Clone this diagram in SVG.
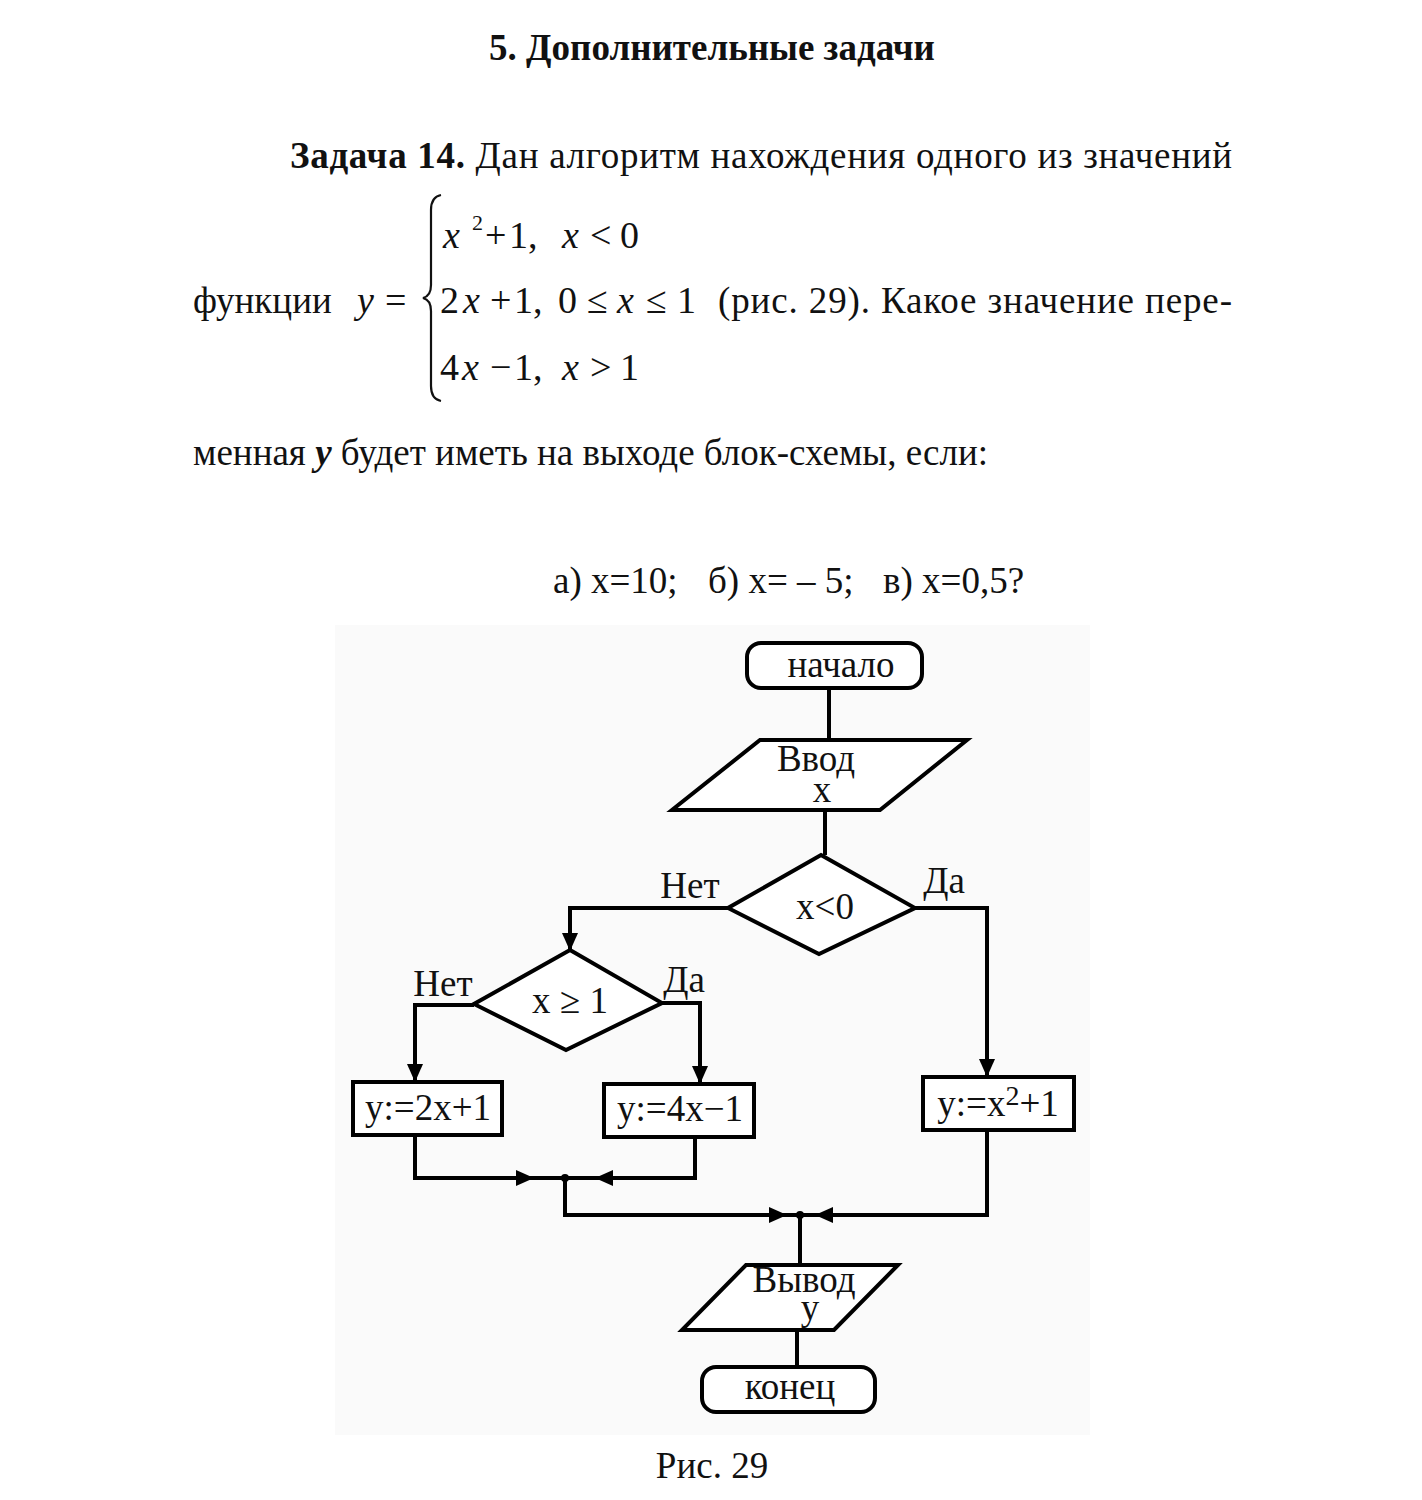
<svg xmlns="http://www.w3.org/2000/svg" width="1422" height="1500" viewBox="0 0 1422 1500">
<defs>
<style>
.t{font-family:"Liberation Serif","Times New Roman",serif;font-size:37px;fill:#111}
.b{font-weight:bold}
.i{font-style:italic}
.m{font-family:"Liberation Serif","Times New Roman",serif;font-size:38px;fill:#111}
.f{font-family:"Liberation Serif","Times New Roman",serif;font-size:37px;fill:#111;text-anchor:middle}
.s{fill:#fff;stroke:#000;stroke-width:4;stroke-linejoin:miter}
.c{fill:none;stroke:#000;stroke-width:4}
</style>
<marker id="ah" markerUnits="userSpaceOnUse" markerWidth="18" markerHeight="16" viewBox="0 0 18 16" refX="17" refY="8" orient="auto">
<path d="M0,0 L18,8 L0,16 Z" fill="#000"/>
</marker>
</defs>
<rect width="1422" height="1500" fill="#fff"/>
<rect x="335" y="625" width="755" height="810" fill="#fafafa"/>

<!-- text -->
<text class="t b" x="712" y="60" text-anchor="middle">5. Дополнительные задачи</text>
<text class="t" x="290" y="168" textLength="942" lengthAdjust="spacing"><tspan class="b">Задача 14.</tspan> Дан алгоритм нахождения одного из значений</text>
<text class="t" x="193" y="313">функции</text>
<text class="m i" x="357" y="313">y</text>
<text class="m" x="385" y="313">=</text>
<path d="M441,195 Q431,197 431,210 L431,285 Q431,296 423,298 Q431,300 431,311 L431,386 Q431,399 441,401" fill="none" stroke="#111" stroke-width="2.2"/>
<text class="m i" x="443" y="248">x</text>
<text class="m" x="472" y="230" style="font-size:22px">2</text>
<text class="m" x="485" y="248">+</text>
<text class="m" x="509" y="248">1,</text>
<text class="m i" x="562" y="248">x</text>
<text class="m" x="590" y="248">&lt;</text>
<text class="m" x="620" y="248">0</text>
<text class="m" x="440" y="313">2</text>
<text class="m i" x="463" y="313">x</text>
<text class="m" x="490" y="313">+</text>
<text class="m" x="514" y="313">1,</text>
<text class="m" x="558" y="313">0</text>
<text class="m" x="587" y="313">≤</text>
<text class="m i" x="617" y="313">x</text>
<text class="m" x="646" y="313">≤</text>
<text class="m" x="677" y="313">1</text>
<text class="m" x="440" y="380">4</text>
<text class="m i" x="462" y="380">x</text>
<text class="m" x="490" y="380">−</text>
<text class="m" x="514" y="380">1,</text>
<text class="m i" x="562" y="380">x</text>
<text class="m" x="590" y="380">&gt;</text>
<text class="m" x="620" y="380">1</text>
<text class="t" x="718" y="313" textLength="514" lengthAdjust="spacing">(рис. 29). Какое значение пере-</text>
<text class="t" x="193" y="465">менная <tspan class="b i">y</tspan> будет иметь на выходе блок-схемы, если:</text>
<text class="t" x="553" y="593">а) x=10;</text>
<text class="t" x="708" y="593">б) x= – 5;</text>
<text class="t" x="883" y="593">в) x=0,5?</text>
<text class="t" x="712" y="1478" text-anchor="middle">Рис. 29</text>

<!-- connectors -->
<g id="connectors">
<path class="c" d="M829,688 V740"/>
<path class="c" d="M825,810 V855"/>
<path class="c" d="M915,908 H987 V1076" marker-end="url(#ah)"/>
<path class="c" d="M728,908 H570 V950" marker-end="url(#ah)"/>
<path class="c" d="M662,1003 H700 V1083" marker-end="url(#ah)"/>
<path class="c" d="M474,1005 H415 V1081" marker-end="url(#ah)"/>
<path class="c" d="M415,1135 V1178 H533" marker-end="url(#ah)"/>
<path class="c" d="M533,1178 H565"/>
<path class="c" d="M695,1137 V1178 H596" marker-end="url(#ah)"/>
<path class="c" d="M596,1178 H565"/>
<path class="c" d="M565,1178 V1215 H786" marker-end="url(#ah)"/>
<path class="c" d="M786,1215 H800"/>
<path class="c" d="M987,1130 V1215 H816" marker-end="url(#ah)"/>
<path class="c" d="M816,1215 H800"/>
<path class="c" d="M800,1215 V1265"/>
<path class="c" d="M797,1330 V1368"/>
<circle cx="565" cy="1178" r="4" fill="#000"/>
<circle cx="800" cy="1215" r="4" fill="#000"/>
<text class="f" x="690" y="898">Нет</text>
<text class="f" x="944" y="893">Да</text>
<text class="f" x="443" y="996">Нет</text>
<text class="f" x="684" y="992">Да</text>
</g>

<!-- nodes -->
<g id="start">
<rect class="s" x="747" y="643" width="175" height="45" rx="14"/>
<text class="f" x="841" y="677">начало</text>
</g>
<g id="input">
<polygon class="s" points="760,740 967,740 880,810 672,810"/>
<text class="f" x="816" y="771">Ввод</text>
<text class="f" x="822" y="802">x</text>
</g>
<g id="cond1">
<polygon class="s" points="821,855 915,908 819,954 728,908"/>
<text class="f" x="825" y="919">x&lt;0</text>
</g>
<g id="cond2">
<polygon class="s" points="570,950 662,1003 566,1050 474,1004"/>
<text class="f" x="570" y="1013">x ≥ 1</text>
</g>
<g id="b1">
<rect class="s" x="353" y="1082" width="149" height="53"/>
<text class="f" x="428" y="1120">y:=2x+1</text>
</g>
<g id="b2">
<rect class="s" x="604" y="1084" width="150" height="53"/>
<text class="f" x="680" y="1121">y:=4x−1</text>
</g>
<g id="b3">
<rect class="s" x="923" y="1077" width="151" height="53"/>
<text class="f" x="998" y="1116">y:=x<tspan dy="-11" style="font-size:28px">2</tspan><tspan dy="11">+1</tspan></text>
</g>
<g id="output">
<polygon class="s" points="746,1265 898,1265 834,1330 682,1330"/>
<text class="f" x="804" y="1292">Вывод</text>
<text class="f" x="810" y="1320">y</text>
</g>
<g id="end">
<rect class="s" x="702" y="1367" width="173" height="45" rx="14"/>
<text class="f" x="790" y="1399">конец</text>
</g>
</svg>
